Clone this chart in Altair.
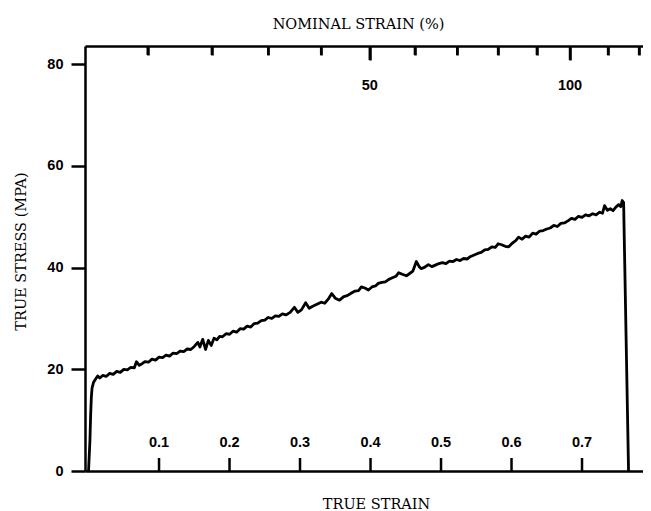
import altair as alt
import pandas as pd

# ---- data ----
strain = [0.000, 0.002, 0.003, 0.004, 0.005, 0.007, 0.010, 0.013, 0.016, 0.020,
          0.025, 0.030, 0.035, 0.040, 0.045, 0.050, 0.055, 0.060, 0.065, 0.068,
          0.072, 0.076, 0.080, 0.085, 0.090, 0.095, 0.100, 0.105, 0.110, 0.115,
          0.120, 0.125, 0.130, 0.135, 0.140, 0.145, 0.150, 0.155, 0.158, 0.162,
          0.166, 0.170, 0.174, 0.178, 0.182, 0.186, 0.190, 0.195, 0.200, 0.205,
          0.210, 0.215, 0.220, 0.225, 0.230, 0.235, 0.240, 0.245, 0.250, 0.255,
          0.260, 0.265, 0.270, 0.275, 0.280, 0.286, 0.292, 0.297, 0.302, 0.308,
          0.313, 0.318, 0.324, 0.330, 0.335, 0.340, 0.345, 0.350, 0.356, 0.362,
          0.367, 0.373, 0.378, 0.383, 0.387, 0.392, 0.397, 0.402, 0.407, 0.411,
          0.416, 0.421, 0.426, 0.431, 0.436, 0.440, 0.445, 0.451, 0.456, 0.460,
          0.465, 0.469, 0.472, 0.477, 0.482, 0.487, 0.492, 0.497, 0.502, 0.507,
          0.512, 0.517, 0.522, 0.527, 0.532, 0.537, 0.542, 0.547, 0.552, 0.557,
          0.562, 0.567, 0.572, 0.577, 0.581, 0.586, 0.591, 0.596, 0.601, 0.606,
          0.610, 0.615, 0.620, 0.625, 0.630, 0.635, 0.640, 0.645, 0.650, 0.655,
          0.660, 0.665, 0.670, 0.675, 0.680, 0.685, 0.690, 0.695, 0.700, 0.705,
          0.710, 0.715, 0.720, 0.725, 0.729, 0.732, 0.736, 0.740, 0.744, 0.748,
          0.752, 0.755, 0.757, 0.759, 0.766]
stress = [0.0, 6.0, 11.0, 14.5, 16.3, 17.4, 18.1, 18.7, 18.3, 18.8,
          18.6, 19.2, 19.0, 19.6, 19.4, 20.0, 19.9, 20.4, 20.3, 21.5,
          20.8, 21.1, 21.5, 21.4, 22.0, 21.8, 22.4, 22.3, 22.8, 22.6,
          23.2, 23.1, 23.6, 23.5, 24.0, 23.9, 24.5, 25.3, 24.4, 25.9,
          23.9, 25.7, 24.7, 26.1, 25.8, 26.5, 26.4, 27.0, 26.9, 27.5,
          27.3, 28.0, 27.9, 28.5, 28.3, 29.0, 29.1, 29.6, 29.7, 30.2,
          30.0, 30.5, 30.4, 30.9, 30.7, 31.2, 32.2, 31.2, 31.7, 33.1,
          32.0, 32.4, 32.8, 33.2, 33.0, 33.8, 34.9, 34.0, 33.6, 34.3,
          34.5, 35.0, 35.4, 35.5, 36.2, 36.0, 35.6, 36.2, 36.4, 36.9,
          37.1, 37.2, 37.7, 38.0, 38.3, 39.0, 38.7, 38.4, 38.9, 39.3,
          41.2, 40.2, 39.8, 40.1, 40.6, 40.2, 40.5, 40.8, 41.0, 40.8,
          41.3, 41.2, 41.6, 41.4, 41.8, 41.7, 42.2, 42.5, 42.8, 43.0,
          43.5, 43.6, 44.1, 44.0, 44.7, 44.5, 44.2, 44.1, 44.8, 45.3,
          46.0, 45.6, 46.2, 46.0, 46.8, 46.6, 47.2, 47.3, 47.6, 47.8,
          48.3, 48.1, 48.7, 48.8, 49.2, 49.7, 49.5, 50.1, 49.9, 50.4,
          50.2, 50.6, 50.4, 50.9, 50.7, 52.2, 51.3, 51.6, 51.2, 51.9,
          52.4, 52.0, 53.2, 52.8, 0.0]

true_ticks = [0.1, 0.2, 0.3, 0.4, 0.5, 0.6, 0.7]
true_labels = ["0.1", "0.2", "0.3", "0.4", "0.5", "0.6", "0.7"]
# positions (in true strain) of the nominal-strain ticks
nominal_minor_pos = [0.084, 0.175, 0.255, 0.330, 0.463, 0.523, 0.581, 0.636, 0.737, 0.781]
nominal_major_pos = [0.399, 0.683]
nominal_major_labels = ["50", "100"]
stress_ticks = [0, 20, 40, 60, 80]

# ---- layout ----
W, H = 558, 425
xscale = alt.Scale(domain=[-0.005, 0.7865], nice=False, zero=False)
yscale = alt.Scale(domain=[0, 83.6], nice=False, zero=False)
SERIF = "DejaVu Serif"
SANS = "Liberation Sans"
FS = 14.5

curve = pd.DataFrame({"strain": strain, "stress": stress})
bottom_df = pd.DataFrame({"v": true_ticks, "lab": true_labels})
top_minor_df = pd.DataFrame({"t": nominal_minor_pos})
top_major_df = pd.DataFrame({"t": nominal_major_pos, "lab": nominal_major_labels})

line = alt.Chart(curve).mark_line(color="black", strokeWidth=2.8, strokeJoin="round").encode(
    x=alt.X("strain:Q", scale=xscale,
            axis=alt.Axis(orient="bottom", title="TRUE STRAIN", ticks=False, labels=False,
                          grid=False, domainWidth=2.5, domainColor="black",
                          titleFont=SERIF, titleFontSize=FS, titleFontWeight="normal",
                          titleColor="black", titleX=291, titleY=37,
                          titleAlign="center", titleBaseline="alphabetic")),
    y=alt.Y("stress:Q", scale=yscale,
            axis=alt.Axis(orient="left", values=stress_ticks, format="d", grid=False,
                          tickSize=14, tickWidth=2.5, tickColor="black",
                          domainWidth=2.5, domainColor="black",
                          labelFont=SANS, labelFontSize=FS, labelFontWeight="bold",
                          labelColor="black", labelPadding=8, labelFlush=False,
                          title="TRUE STRESS (MPA)", titleFont=SERIF, titleFontSize=FS,
                          titleFontWeight="normal", titleColor="black",
                          titleX=-64, titleY=205, titleAngle=270,
                          titleAlign="center", titleBaseline="middle")),
)

# top (nominal strain) ticks point into the plot
top_minor = alt.Chart(top_minor_df).mark_tick(
    color="black", thickness=2.5, size=9, opacity=1
).encode(
    x=alt.X("t:Q", scale=xscale,
            axis=alt.Axis(orient="top", values=nominal_minor_pos, offset=-9, tickSize=9,
                          tickWidth=2.5, tickColor="black", domain=False,
                          labels=False, grid=False, title=None)),
    y=alt.value(4.5),
)

top_major = alt.Chart(top_major_df).mark_tick(
    color="black", thickness=2.5, size=14, opacity=1
).encode(
    x=alt.X("t:Q", scale=xscale,
            axis=alt.Axis(orient="top", values=nominal_major_pos, offset=-14, tickSize=14,
                          tickWidth=2.5, tickColor="black", domain=False,
                          labels=False, grid=False, title=None)),
    y=alt.value(7),
)

top_labels = alt.Chart(top_major_df).mark_text(
    font=SANS, fontSize=FS, fontWeight="bold", color="black",
    align="center", baseline="alphabetic"
).encode(
    x=alt.X("t:Q", scale=xscale,
            axis=alt.Axis(orient="top", title="NOMINAL STRAIN (%)", ticks=False, labels=False,
                          grid=False, domainWidth=2.5, domainColor="black",
                          titleFont=SERIF, titleFontSize=FS, titleFontWeight="normal",
                          titleColor="black", titleX=273, titleY=-18,
                          titleAlign="center", titleBaseline="alphabetic")),
    y=alt.value(44),
    text="lab:N",
)

bottom_ticks = alt.Chart(bottom_df).mark_tick(
    color="black", thickness=2.5, size=13, opacity=1
).encode(
    x=alt.X("v:Q", scale=xscale, axis=None),
    y=alt.value(H - 6.5),
)

bottom_labels = alt.Chart(bottom_df).mark_text(
    font=SANS, fontSize=FS, fontWeight="bold", color="black",
    align="center", baseline="alphabetic"
).encode(
    x=alt.X("v:Q", scale=xscale, axis=None),
    y=alt.value(H - 24),
    text="lab:N",
)

chart = alt.layer(
    top_minor, top_major, top_labels, bottom_ticks, bottom_labels, line
).resolve_axis(x="independent").properties(
    width=W, height=H,
    autosize=alt.AutoSizeParams(type="none"),
    padding={"left": 77, "top": 38, "right": 0, "bottom": 42},
    background="white",
).configure_view(stroke=None)

chart.save("out.html", embed_options={"renderer": "svg", "actions": False})
